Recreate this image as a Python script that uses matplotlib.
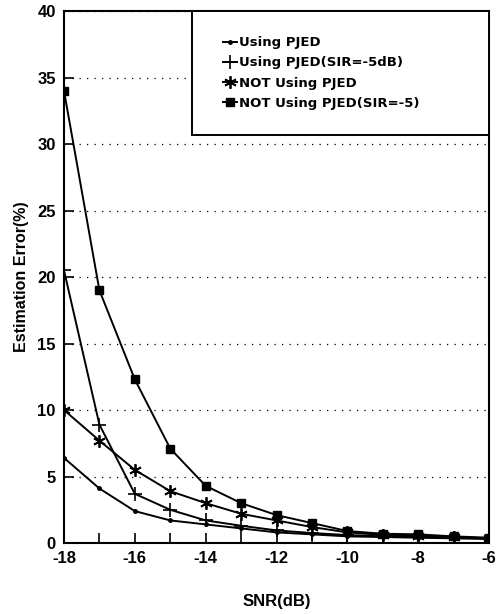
import numpy as np
import matplotlib
matplotlib.use("Agg")
import matplotlib.pyplot as plt
from matplotlib.patches import Rectangle

snr = [-18, -17, -16, -15, -14, -13, -12, -11, -10, -9, -8, -7, -6]
using_pjed = [6.4, 4.1, 2.4, 1.7, 1.4, 1.1, 0.8, 0.65, 0.5, 0.45, 0.4, 0.35, 0.3]
using_pjed_sir = [20.5, 8.9, 3.7, 2.5, 1.7, 1.3, 0.95, 0.75, 0.6, 0.5, 0.45, 0.4, 0.35]
not_pjed = [10.0, 7.7, 5.5, 3.9, 3.0, 2.2, 1.7, 1.2, 0.8, 0.6, 0.55, 0.45, 0.35]
not_pjed_sir = [34.0, 19.0, 12.3, 7.1, 4.3, 3.0, 2.1, 1.5, 0.9, 0.7, 0.65, 0.5, 0.4]
labels = ["Using PJED", "Using PJED(SIR=-5dB)", "NOT Using PJED", "NOT Using PJED(SIR=-5)"]

plt.rcParams['font.family'] = ['Liberation Sans', 'DejaVu Sans']
plt.rcParams['axes.unicode_minus'] = False

fig = plt.figure(figsize=(4.98, 6.14), dpi=100)
ax = fig.add_axes([0.1285, 0.1156, 0.8535, 0.8664])

ax.plot(snr, using_pjed, color="black", lw=1.4, marker="o", ms=2.5, label=labels[0])
ax.plot(snr, using_pjed_sir, color="black", lw=1.4, marker="+", ms=10, mew=1.2, label=labels[1])
ax.plot(snr, not_pjed, color="black", lw=1.4, marker=(6, 2, 0), ms=9, mew=1.3, label=labels[2])
ax.plot(snr, not_pjed_sir, color="black", lw=1.4, marker="s", ms=5.5, label=labels[3])

ax.set_xlim(-18, -6)
ax.set_ylim(0, 40)
ax.set_xticks(np.arange(-18, -5, 2))
ax.set_xticks(np.arange(-18, -5, 1), minor=True)
ax.set_yticks(np.arange(0, 41, 5))
ax.tick_params(which="both", direction="in", width=1.2, labelsize=12, pad=6)
ax.tick_params(which="both", length=7)
for lab in ax.get_xticklabels() + ax.get_yticklabels():
    lab.set_fontweight("bold")
for s in ax.spines.values():
    s.set_linewidth(1.5)

ax.yaxis.grid(True, linestyle=(0, (1, 5)), color="black", lw=0.9)

ax.set_xlabel("SNR(dB)", fontsize=12, fontweight="bold", labelpad=20)
ax.set_ylabel("Estimation Error(%)", fontsize=11.5, fontweight="bold", labelpad=6)

ax.add_patch(Rectangle((0.301, 0.767), 0.699, 0.233, transform=ax.transAxes,
                       facecolor="white", edgecolor="black", lw=1.4, zorder=5))
leg = ax.legend(loc="upper left", bbox_to_anchor=(0.345, 0.975), frameon=False,
                handlelength=1.1, handletextpad=0.15, labelspacing=0.55,
                prop={"family": "DejaVu Sans", "size": 9.5, "weight": "bold"})
leg.set_zorder(6)

fig.savefig("out.png", dpi=100)
